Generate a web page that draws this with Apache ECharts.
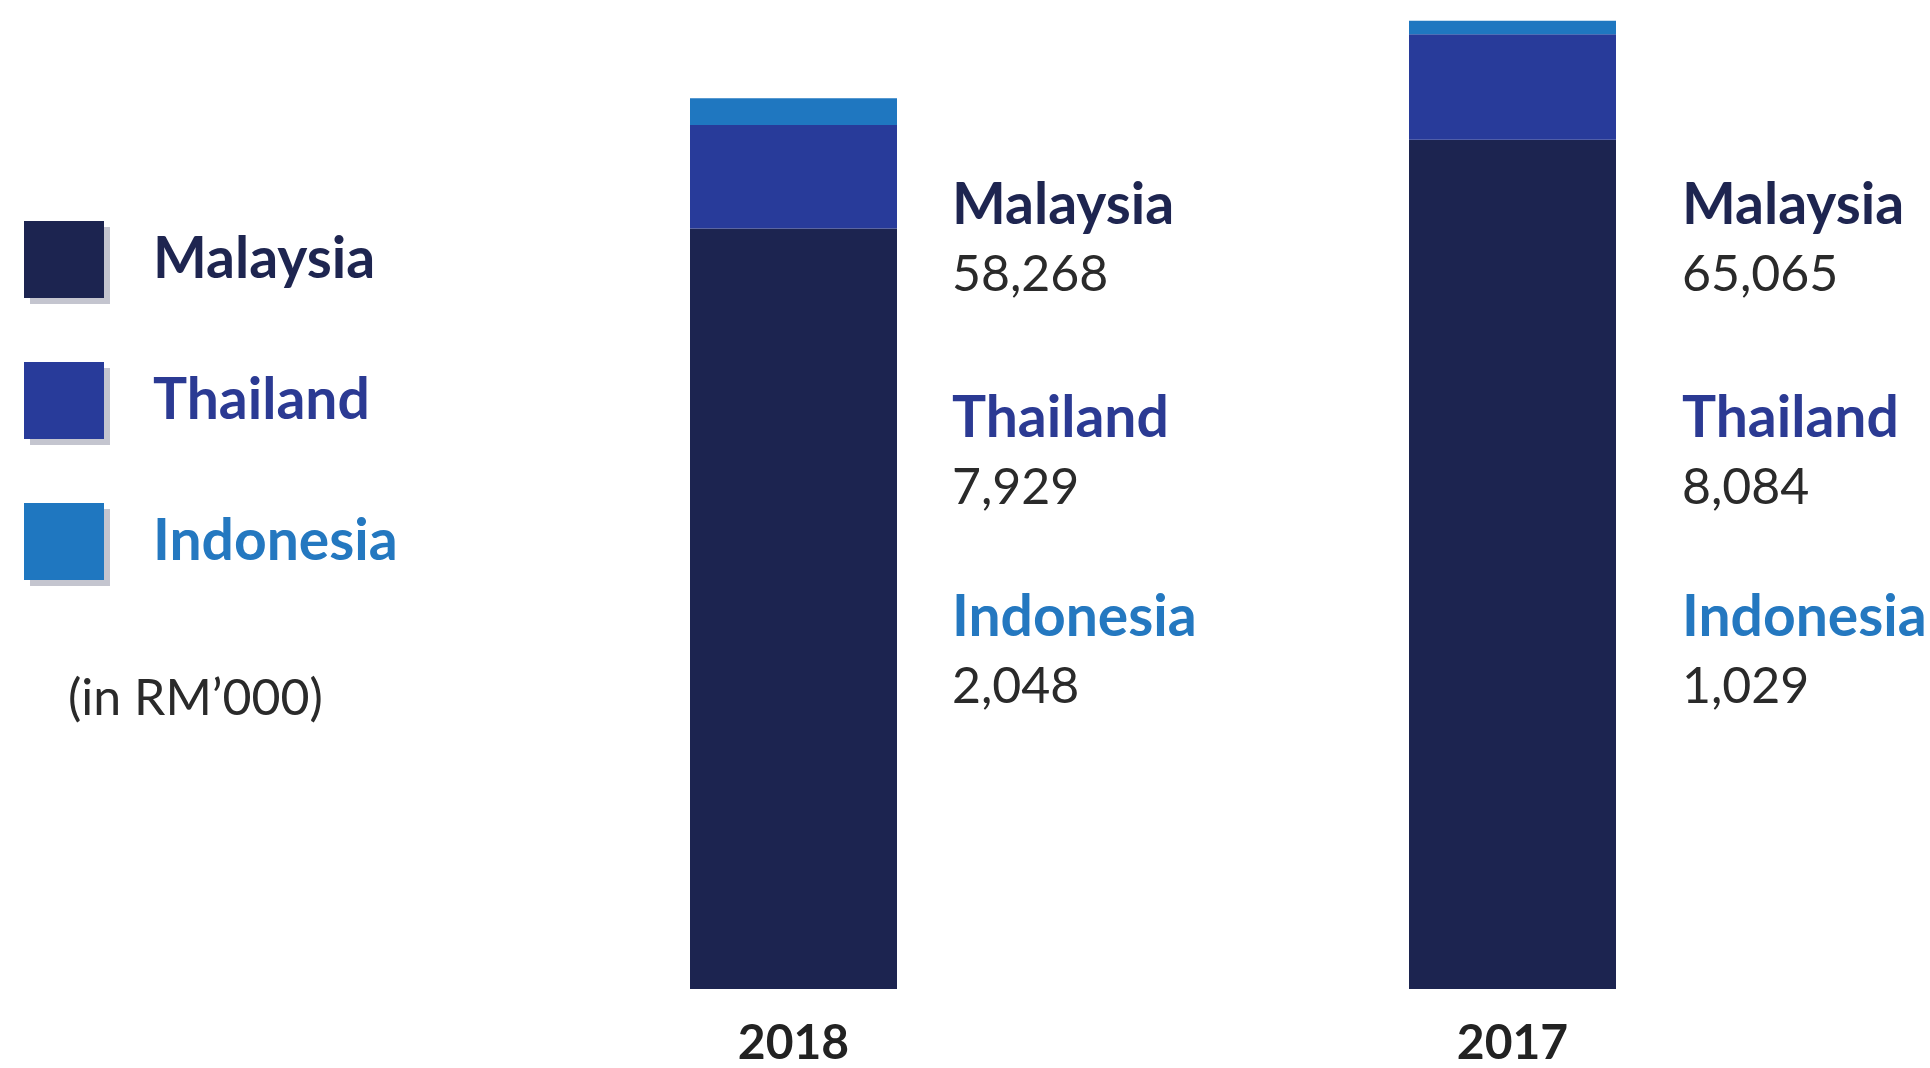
<!DOCTYPE html>
<html>
<head>
<meta charset="utf-8">
<script src="https://cdn.jsdelivr.net/npm/echarts@6/dist/echarts.min.js"></script>
<style>
html,body{margin:0;padding:0;background:#fff;}
#c{width:1930px;height:1068px;}
</style>
</head>
<body>
<div id="c"></div>
<script>
const years = ['2018', '2017'];
const countries = ['Malaysia', 'Thailand', 'Indonesia'];
const malaysia = [58268, 65065];
const thailand = [7929, 8084];
const indonesia = [2048, 1029];
const unitNote = '(in RM\u2019000)';

const colors = ['#1c2450', '#283b9a', '#1f77c0'];
const textColors = ['#1e2550', '#2b3a93', '#2478c0'];
const seriesValues = [malaysia, thailand, indonesia];

const chart = echarts.init(document.getElementById('c'));

const fmt = v => v.toLocaleString('en-US');

// value text blocks to the right of each bar
const labelX = [952, 1682];
const nameY = [211, 424, 623];
const valY = [280, 493, 692];
const graphics = [];
years.forEach((y, yi) => {
  countries.forEach((c, ci) => {
    graphics.push({
      type: 'text', left: labelX[yi], top: nameY[ci] - 34,
      style: { text: c, fill: textColors[ci], font: 'bold 57px Lato' }
    });
    graphics.push({
      type: 'text', left: labelX[yi], top: valY[ci] - 30,
      style: { text: fmt(seriesValues[ci][yi]), fill: '#2a2a2a', font: '50px Lato' }
    });
  });
});
graphics.push({
  type: 'text', left: 68, top: 674,
  style: { text: unitNote, fill: '#2a2a2a', font: '50px Lato' }
});

chart.setOption({
  animation: false,
  backgroundColor: '#ffffff',
  grid: { left: 434, right: 58, top: 10, bottom: 78 },
  legend: {
    orient: 'vertical', left: 19, top: 216,
    itemWidth: 80, itemHeight: 77, itemGap: 64,
    icon: 'rect', selectedMode: false,
    itemStyle: { shadowColor: '#c4c5cf', shadowOffsetX: 6, shadowOffsetY: 6, shadowBlur: 0 },
    textStyle: { fontFamily: 'Lato', fontWeight: 'bold', fontSize: 57, padding: [10, 0, 0, 44] },
    data: countries.map((c, i) => ({ name: c, textStyle: { color: textColors[i] } }))
  },
  xAxis: {
    type: 'category', data: years,
    axisLine: { show: false }, axisTick: { show: false },
    axisLabel: { fontFamily: 'Lato', fontWeight: 'bold', fontSize: 48, color: '#222', margin: 31 }
  },
  yAxis: { type: 'value', min: 0, max: 75000, show: false, splitLine: { show: false } },
  graphic: graphics,
  series: countries.map((c, i) => ({
    name: c, type: 'bar', stack: 'total', barWidth: 207,
    itemStyle: { color: colors[i] },
    data: seriesValues[i]
  }))
});
</script>
</body>
</html>
